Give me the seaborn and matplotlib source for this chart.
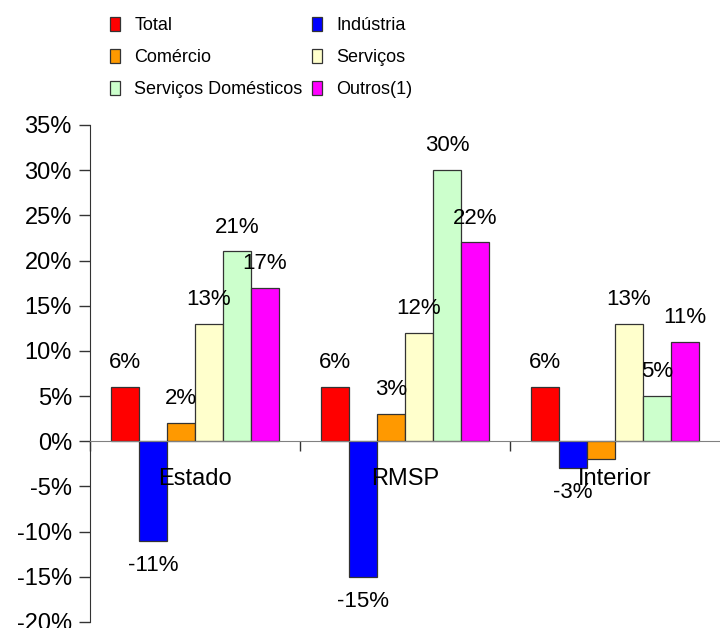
import matplotlib
matplotlib.use("Agg")
import matplotlib.pyplot as plt
import pandas as pd
import seaborn as sns
from matplotlib.patches import Patch
from matplotlib.ticker import PercentFormatter

REGIONS = ["Estado", "RMSP", "Interior"]
SECTORS = ["Total", "Indústria", "Comércio", "Serviços", "Serviços Domésticos", "Outros(1)"]
TOTAL = [6, 6, 6]
INDUSTRIA = [-11, -15, -3]
COMERCIO = [2, 3, -2]
SERVICOS = [13, 12, 13]
SERV_DOM = [21, 30, 5]
OUTROS = [17, 22, 11]
HIDDEN_LABELS = [("Interior", "Comércio")]
COLORS = ["#FF0000", "#0000FF", "#FF9900", "#FFFFCC", "#CCFFCC", "#FF00FF"]

series = [TOTAL, INDUSTRIA, COMERCIO, SERVICOS, SERV_DOM, OUTROS]
rows = []
for sector, values in zip(SECTORS, series):
    for region, v in zip(REGIONS, values):
        rows.append({"Região": region, "Setor": sector, "Variação": v})
df = pd.DataFrame(rows)

sns.set_style("ticks")
plt.rcParams["font.family"] = ["Liberation Sans", "DejaVu Sans"]
plt.rcParams["axes.unicode_minus"] = False
plt.rcParams["text.color"] = "black"
plt.rcParams["ytick.labelcolor"] = "black"

fig = plt.figure(figsize=(7.2, 6.28), dpi=100)
ax = fig.add_axes([0.125, 0.0096, 0.875, 0.7914])

palette = dict(zip(SECTORS, COLORS))
sns.barplot(
    data=df,
    x="Região",
    y="Variação",
    hue="Setor",
    order=REGIONS,
    hue_order=SECTORS,
    palette=palette,
    width=0.8,
    errorbar=None,
    edgecolor="#333333",
    linewidth=0.9,
    saturation=1,
    legend=False,
    ax=ax,
)

for container, sector in zip(ax.containers, SECTORS):
    labels = []
    for region, v in zip(REGIONS, df[df["Setor"] == sector]["Variação"]):
        labels.append("" if (region, sector) in HIDDEN_LABELS else f"{v:.0f}%")
    ax.bar_label(container, labels=labels, padding=10, fontsize=16, color="black")

for i, region in enumerate(REGIONS):
    ax.text(i, -4.2, region, ha="center", va="center", fontsize=17, color="black")

ax.set_ylim(-20, 35)
ax.set_xlim(-0.5, 2.5)
ax.set_yticks(range(-20, 36, 5))
ax.yaxis.set_major_formatter(PercentFormatter(xmax=100, decimals=0))
ax.set_xticks([-0.5, 0.5, 1.5])
ax.set_xticklabels([])
ax.set_xlabel("")
ax.set_ylabel("")
ax.tick_params(axis="y", direction="out", length=8, width=1, labelsize=17, pad=5,
               color="#333333", labelcolor="black")
ax.tick_params(axis="x", direction="out", length=7, width=1, color="#333333")

ax.spines["bottom"].set_position(("data", 0))
ax.spines["bottom"].set_color("#808080")
ax.spines["left"].set_color("#333333")
ax.spines["top"].set_visible(False)
ax.spines["right"].set_visible(False)

handles = [Patch(facecolor=c, edgecolor="#333333", linewidth=0.9) for c in COLORS]
order = [0, 2, 4, 1, 3, 5]
fig.legend(
    [handles[k] for k in order],
    [SECTORS[k] for k in order],
    loc="upper left",
    bbox_to_anchor=(110 / 720, 1 - 17 / 628),
    ncol=2,
    frameon=False,
    fontsize=13,
    handlelength=0.55,
    handleheight=0.8,
    handletextpad=0.8,
    columnspacing=0.5,
    labelspacing=0.82,
    borderaxespad=0,
    borderpad=0,
    labelcolor="black",
)

fig.savefig("out.png", dpi=100)
